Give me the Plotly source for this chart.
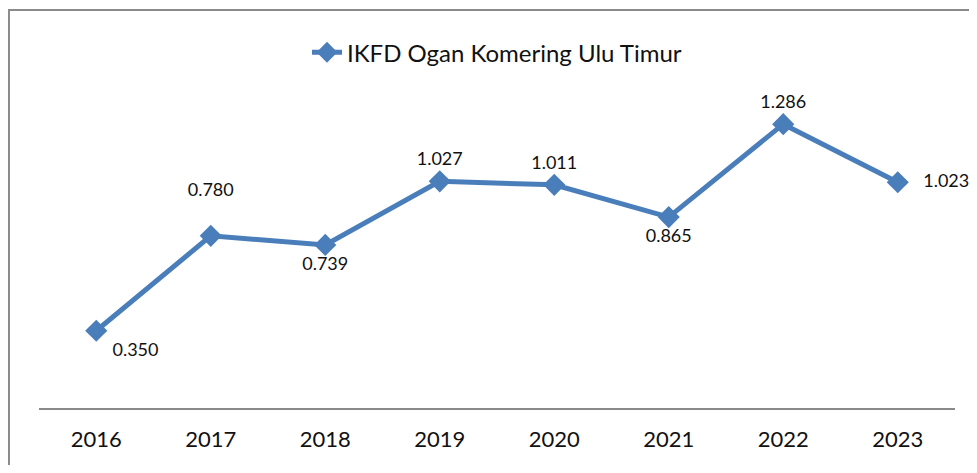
import plotly.graph_objects as go

years = ["2016", "2017", "2018", "2019", "2020", "2021", "2022", "2023"]
values = [0.350, 0.780, 0.739, 1.027, 1.011, 0.865, 1.286, 1.023]
labels = ["0.350", "0.780", "0.739", "1.027", "1.011", "0.865", "1.286", "1.023"]
series_name = "IKFD Ogan Komering Ulu Timur"

label_pos = ["bottom right", "top center", "bottom center", "top center",
             "top center", "bottom center", "top center", "middle right"]

NB = "\u00a0"
label_text = [
    NB + labels[0] + NB,
    labels[1] + "<br>" + NB,
    labels[2],
    labels[3],
    labels[4],
    labels[5],
    labels[6],
    NB * 3 + labels[7],
]

color = "#4A7EBB"
font = "Lato, sans-serif"

fig = go.Figure()
fig.add_trace(go.Scatter(
    x=years, y=values, name=series_name, mode="lines+markers+text",
    line=dict(color=color, width=5),
    marker=dict(symbol="diamond", size=17, color=color),
    text=label_text, textposition=label_pos,
    textfont=dict(size=18, color="#111111", family=font),
    cliponaxis=False,
))

fig.add_shape(type="rect", xref="paper", yref="paper", x0=-0.0328, y0=-0.6, x1=1.2, y1=1.288,
              line=dict(color="#8a8a8a", width=2), fillcolor="rgba(0,0,0,0)", layer="below")

fig.update_layout(
    width=961, height=457,
    margin=dict(l=31, r=14, t=91, b=57),
    paper_bgcolor="white", plot_bgcolor="white",
    showlegend=True,
    legend=dict(orientation="h", x=0.5, xanchor="center", y=1.15, yanchor="middle",
                font=dict(size=24, color="#111111", family=font)),
    xaxis=dict(type="category", range=[-0.5, 7.5], showline=True, linecolor="#8a8a8a", linewidth=1.5,
               showgrid=False, ticks="outside", ticklen=11, tickcolor="rgba(0,0,0,0)",
               tickfont=dict(size=22, color="#111111", family=font), zeroline=False),
    yaxis=dict(range=[0, 1.4], showticklabels=False, showline=False, showgrid=False,
               zeroline=False, ticks=""),
)

fig.write_html("out.html")
